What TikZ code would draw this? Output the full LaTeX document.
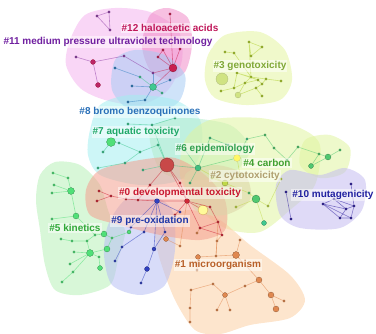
\documentclass[tikz,border=0pt]{standalone}
\usepackage{fontspec}
\setsansfont{Liberation Sans}
\usepackage{tikz}

\definecolor{col0}{HTML}{C81830}
\definecolor{col1}{HTML}{B86028}
\definecolor{col2}{HTML}{B0A070}
\definecolor{col3}{HTML}{80A838}
\definecolor{col4}{HTML}{40A030}
\definecolor{col5}{HTML}{30A838}
\definecolor{col6}{HTML}{30A050}
\definecolor{col7}{HTML}{20A868}
\definecolor{col8}{HTML}{2A70B8}
\definecolor{col9}{HTML}{2038A8}
\definecolor{col10}{HTML}{2020A0}
\definecolor{col11}{HTML}{7020A0}
\definecolor{col12}{HTML}{C0185A}

\definecolor{nod0}{HTML}{D02838}
\definecolor{nod1}{HTML}{E08850}
\definecolor{nod2}{HTML}{C0D848}
\definecolor{nod3}{HTML}{B0D030}
\definecolor{nod4}{HTML}{50C870}
\definecolor{nod5}{HTML}{50E078}
\definecolor{nod6}{HTML}{40C080}
\definecolor{nod7}{HTML}{40C890}
\definecolor{nod8}{HTML}{3080C0}
\definecolor{nod9}{HTML}{3040C0}
\definecolor{nod10}{HTML}{3020A0}
\definecolor{nod11}{HTML}{9040A8}
\definecolor{nod12}{HTML}{C82050}
\definecolor{hubc}{HTML}{C84848}

\definecolor{area0}{HTML}{F4A090}
\definecolor{area1}{HTML}{FCD0A4}
\definecolor{area2}{HTML}{DCD4A8}
\definecolor{area3}{HTML}{E4F4A0}
\definecolor{area4}{HTML}{E0F4A0}
\definecolor{area5}{HTML}{B8F0B8}
\definecolor{area6}{HTML}{B4ECCC}
\definecolor{area7}{HTML}{A4EEF0}
\definecolor{area8}{HTML}{A8CCF4}
\definecolor{area9}{HTML}{B8C0F4}
\definecolor{area10}{HTML}{C4BCF0}
\definecolor{area11}{HTML}{F4B4EE}
\definecolor{area12}{HTML}{F08CC8}

\tikzset{
  blob/.style={fill=#1, fill opacity=0.55, draw=none},
  dot/.style={circle, inner sep=0pt, minimum size=2.6pt, fill=#1, draw=black!45!#1, line width=0.2pt},
  bigdot/.style={dot=#1, minimum size=6pt},
  link/.style={draw=#1, line width=0.6pt, opacity=0.55},
  lbl/.style={text=#1, font=\sffamily\bfseries\fontsize{10}{12}\selectfont,
    fill=white, fill opacity=0.5, text opacity=1, inner sep=1pt}
}

\begin{document}
\begin{tikzpicture}[x=1pt,y=-1pt]
\useasboundingbox (0,0) rectangle (376,334);

%cluster areas
\fill[blob=area11] plot[smooth cycle] coordinates {(70,40) (85,15) (115,8) (150,12) (178,30) (182,60) (168,90) (140,105) (105,100) (80,88) (66,65)};
\fill[blob=area12] plot[smooth cycle] coordinates {(150,15) (168,8) (188,18) (192,45) (185,72) (168,80) (150,70) (142,45)};
\fill[blob=area8] plot[smooth cycle] coordinates {(115,60) (135,50) (165,55) (185,75) (180,100) (160,112) (130,110) (112,90)};
\fill[blob=area7] plot[smooth cycle] coordinates {(90,130) (100,105) (130,95) (175,100) (200,120) (200,155) (180,180) (140,185) (100,175) (88,155)};
\fill[blob=area3] plot[smooth cycle] coordinates {(208,55) (225,35) (260,32) (285,50) (292,80) (280,100) (245,105) (215,98) (205,80)};
\fill[blob=area6] plot[smooth cycle] coordinates {(150,130) (180,118) (230,125) (250,150) (230,175) (190,180) (160,170)};
\fill[blob=area4] plot[smooth cycle] coordinates {(185,140) (210,120) (260,118) (300,128) (320,145) (315,185) (290,210) (260,232) (225,228) (195,205) (180,175)};
\fill[blob=area4] plot[smooth cycle] coordinates {(305,140) (330,135) (350,148) (345,172) (320,178) (300,165)};
\fill[blob=area10] plot[smooth cycle] coordinates {(276,185) (290,170) (320,175) (345,168) (365,180) (362,210) (340,228) (300,228) (280,215)};
\fill[blob=area5] plot[smooth cycle] coordinates {(40,175) (55,162) (80,165) (100,185) (110,215) (125,230) (118,260) (110,285) (80,295) (55,290) (45,265) (40,230) (36,200)};
\fill[blob=area1] plot[smooth cycle] coordinates {(160,220) (190,210) (220,220) (250,245) (290,275) (305,300) (290,318) (250,325) (220,334) (195,330) (175,300) (160,260) (155,235)};
\fill[blob=area9] plot[smooth cycle] coordinates {(108,225) (125,200) (150,195) (172,210) (175,250) (165,285) (140,295) (112,285) (104,255)};
\fill[blob=area0] plot[smooth cycle] coordinates {(86,190) (100,170) (140,160) (175,158) (205,175) (225,200) (225,230) (200,240) (160,235) (120,225) (90,215)};
\fill[blob=area2] plot[smooth cycle] coordinates {(185,175) (215,165) (245,175) (250,200) (225,215) (195,210)};

%cluster 11
\node[dot=nod11] (k11a) at (97,16) {};
\node[dot=nod11] (k11b) at (109,12) {};
\node[dot=nod11] (k11c) at (110,30) {};
\node[dot=nod11] (k11d) at (76,57) {};
\node[bigdot=nod11!60!red, minimum size=5pt] (k11e) at (93,62) {};
\node[bigdot=nod11!60!red, minimum size=5pt] (k11f) at (98,85) {};
\node[dot=nod11] (k11g) at (124,56) {};
\node[dot=nod11] (k11h) at (153,73) {};

%cluster 12
\node[dot=nod12] (k12a) at (170,14) {};
\node[dot=nod12] (k12b) at (163,50) {};
\node[dot=nod12] (k12c) at (180,49) {};
\node[dot=nod12] (k12d) at (158,57) {};
\node[bigdot=nod12, minimum size=8pt] (k12e) at (173,68) {};

%cluster 8
\node[dot=nod7] (k8a) at (140,77) {};
\node[bigdot=nod7, minimum size=7pt] (k8b) at (153,87) {};
\node[dot=nod7] (k8c) at (162,93) {};
\node[dot=nod8] (k8d) at (115,68) {};
\node[dot=nod8] (k8e) at (132,86) {};
\node[dot=nod8] (k8f) at (145,100) {};
\node[dot=nod8] (k8g) at (170,80) {};
\node[dot=nod8] (k8h) at (128,102) {};

%cluster 7
\node[bigdot=nod5, minimum size=9pt] (k7a) at (111,142) {};
\node[dot=nod7] (k7b) at (119,143) {};
\node[dot=nod7] (k7c) at (103,152) {};
\node[dot=nod7] (k7d) at (128,124) {};
\node[dot=nod7] (k7e) at (140,152) {};
\node[dot=nod7] (k7f) at (152,125) {};
\node[dot=nod7] (k7g) at (125,163) {};
\node[dot=nod7] (k7h) at (158,145) {};
\node[dot=nod7] (k7i) at (98,168) {};
\node[dot=nod7] (k7j) at (175,118) {};
\node[dot=nod7] (k7k) at (143,170) {};

%center
\node[bigdot=hubc, minimum size=14pt] (hub) at (167,165) {};

%cluster 6
\node[bigdot=nod6, minimum size=6pt] (k6a) at (198,168) {};
\node[dot=nod6] (k6b) at (185,150) {};
\node[dot=nod6] (k6c) at (210,138) {};
\node[dot=nod6] (k6d) at (228,145) {};
\node[dot=nod6] (k6e) at (190,183) {};

%cluster 4
\node[dot=nod7] (k4a) at (247,139) {};
\node[dot=nod4] (k4b) at (265,135) {};
\node[dot=nod4] (k4c) at (274,148) {};
\node[bigdot=yellow!60, minimum size=7pt] (k4d) at (237,158) {};
\node[bigdot=nod4, minimum size=6pt] (k4e) at (328,157) {};
\node[dot=nod4] (k4f) at (319,154) {};
\node[bigdot=nod4, minimum size=5pt] (k4g) at (311,166) {};
\node[dot=nod4] (k4h) at (340,150) {};
\node[dot=nod4] (k4i) at (298,147) {};
\node[dot=nod4] (k4j) at (287,160) {};

%cluster 2
\node[bigdot=nod2, minimum size=6pt] (k2a) at (225,183) {};
\node[dot=nod4] (k2b) at (249,193) {};
\node[bigdot=nod4, minimum size=8pt] (k2c) at (256,199) {};
\node[bigdot=nod7, minimum size=5pt] (k2d) at (264,223) {};
\node[dot=nod2] (k2e) at (268,206) {};
\node[dot=nod2] (k2f) at (281,179) {};
\node[dot=nod2] (k2g) at (240,175) {};
\node[dot=nod2] (k2h) at (236,207) {};
\node[dot=nod2] (k2i) at (212,178) {};

%cluster 0
\node[dot=nod0] (k0a) at (99,191) {};
\node[dot=nod0] (k0b) at (97,201) {};
\node[dot=nod0] (k0c) at (111,196) {};
\node[dot=nod0] (k0d) at (126,199) {};
\node[dot=nod0] (k0e) at (138,200) {};
\node[bigdot=nod9, minimum size=5pt] (k0f) at (157,201) {};
\node[bigdot=nod0, minimum size=5pt] (k0g) at (187,201) {};
\node[bigdot=yellow!40, minimum size=10pt, draw=brown] (k0h) at (203,210) {};
\node[dot=nod0] (k0i) at (210,207) {};
\node[dot=nod0] (k0j) at (180,183) {};
\node[dot=nod0] (k0k) at (200,228) {};
\node[dot=nod0] (k0l) at (218,222) {};
\node[dot=nod0] (k0m) at (222,235) {};
\node[dot=nod0] (k0n) at (175,215) {};
\node[dot=nod0] (k0o) at (150,185) {};

%cluster 9
\node[dot=nod9] (k9a) at (180,212) {};
\node[dot=nod9] (k9b) at (131,227) {};
\node[bigdot=nod5, minimum size=4pt] (k9c) at (129,232) {};
\node[dot=nod9] (k9d) at (144,232) {};
\node[dot=nod9] (k9e) at (122,247) {};
\node[bigdot=nod9, minimum size=4pt] (k9f) at (154,249) {};
\node[dot=nod9] (k9g) at (115,261) {};
\node[bigdot=nod9, minimum size=5pt] (k9h) at (147,269) {};
\node[dot=nod9] (k9i) at (141,283) {};
\node[dot=nod9] (k9j) at (165,232) {};

%cluster 5
\node[dot=nod5] (k5a) at (53,173) {};
\node[dot=nod5] (k5b) at (68,178) {};
\node[dot=nod5] (k5c) at (54,185) {};
\node[bigdot=nod5, minimum size=7pt] (k5d) at (71,191) {};
\node[dot=nod5] (k5e) at (52,193) {};
\node[bigdot=nod5, minimum size=6pt] (k5f) at (76,216) {};
\node[dot=nod5] (k5g) at (52,219) {};
\node[dot=nod5] (k5h) at (95,235) {};
\node[bigdot=nod5, minimum size=6pt] (k5i) at (104,234) {};
\node[dot=nod5] (k5j) at (61,239) {};
\node[dot=nod5] (k5k) at (72,241) {};
\node[dot=nod5] (k5l) at (87,241) {};
\node[dot=nod5] (k5m) at (112,238) {};
\node[bigdot=nod5, minimum size=6pt] (k5n) at (107,249) {};
\node[bigdot=nod5, minimum size=7pt] (k5o) at (90,253) {};
\node[dot=nod5] (k5p) at (74,252) {};
\node[dot=nod5] (k5q) at (99,257) {};
\node[dot=nod5] (k5r) at (70,264) {};
\node[bigdot=nod5, minimum size=5pt] (k5s) at (100,268) {};
\node[dot=nod5] (k5t) at (73,272) {};
\node[dot=nod5] (k5u) at (62,282) {};

%cluster 10
\node[dot=nod10] (k10a) at (286,192) {};
\node[dot=nod10] (k10b) at (291,219) {};
\node[dot=nod10] (k10c) at (351,184) {};
\node[dot=nod10] (k10d) at (323,204) {};
\node[dot=nod10] (k10e) at (340,218) {};
\node[dot=nod10] (k10f) at (351,218) {};
\node[dot=nod10] (k10g) at (354,206) {};
\node[dot=nod10] (k10h) at (346,209) {};
\node[dot=nod10] (k10i) at (334,199) {};

%cluster 3
\node[bigdot=nod3!60, minimum size=12pt] (k3a) at (222,79) {};
\node[dot=nod3] (k3b) at (249,42) {};
\node[dot=nod3] (k3c) at (262,47) {};
\node[dot=nod3] (k3d) at (225,52) {};
\node[dot=nod3] (k3e) at (234,53) {};
\node[dot=nod3] (k3f) at (251,56) {};
\node[dot=nod3] (k3g) at (237,73) {};
\node[dot=nod3] (k3h) at (251,77) {};
\node[dot=nod3] (k3i) at (258,80) {};
\node[dot=nod3] (k3j) at (266,79) {};
\node[dot=nod3] (k3k) at (262,84) {};
\node[dot=nod3] (k3l) at (281,81) {};
\node[dot=nod3] (k3m) at (221,91) {};
\node[bigdot=nod3!60, minimum size=6pt] (k3n) at (238,95) {};
\node[dot=nod3] (k3o) at (262,96) {};
\node[dot=nod3] (k3p) at (256,88) {};
\node[dot=nod3] (k3q) at (234,88) {};
\node[dot=nod3] (k3r) at (245,83) {};

%cluster 1
\node[bigdot=nod1, minimum size=5pt] (k1a) at (166,239) {};
\node[dot=nod1] (k1b) at (180,246) {};
\node[dot=nod1] (k1c) at (197,233) {};
\node[dot=nod1] (k1d) at (217,241) {};
\node[bigdot=nod1, minimum size=7pt] (k1e) at (236,255) {};
\node[dot=nod1] (k1f) at (216,256) {};
\node[bigdot=nod1, minimum size=5pt] (k1g) at (198,257) {};
\node[dot=nod1] (k1h) at (191,290) {};
\node[bigdot=nod1, minimum size=5pt] (k1i) at (225,295) {};
\node[dot=nod1] (k1j) at (245,286) {};
\node[bigdot=nod1, minimum size=6pt] (k1k) at (259,280) {};
\node[bigdot=nod1, minimum size=6pt] (k1l) at (271,295) {};
\node[dot=nod1] (k1m) at (284,301) {};
\node[bigdot=nod1, minimum size=6pt] (k1n) at (276,309) {};
\node[dot=nod1] (k1o) at (217,310) {};
\node[dot=nod1] (k1p) at (230,310) {};
\node[dot=nod1] (k1q) at (213,284) {};
\node[dot=nod1] (k1r) at (190,322) {};
\node[dot=nod1] (k1s) at (190,308) {};
\node[dot=nod1] (k1t) at (197,270) {};
\node[dot=nod1] (k1u) at (240,240) {};

%links
\draw[link=nod11] (k11a) -- (k11b) -- (k11c) -- (k11a);
\draw[link=nod11] (k11d) -- (k11e) -- (k11f);
\draw[link=nod11] (k11e) -- (k11g) -- (k11h);
\draw[link=nod12] (k12a) -- (k12e);
\draw[link=nod12] (k12b) -- (k12e);
\draw[link=nod12] (k12c) -- (k12e);
\draw[link=nod12] (k12d) -- (k12e);
\draw[link=nod12] (k12b) -- (k12d);
\draw[link=nod12] (k11h) -- (k12e);
\draw[link=nod7] (k8b) -- (k8a);
\draw[link=nod7] (k8b) -- (k8c);
\draw[link=nod8] (k8b) -- (k8f);
\draw[link=nod8] (k8b) -- (k8g);
\draw[link=nod8] (k8b) -- (k8e);
\draw[link=nod8] (k8a) -- (k8d);
\draw[link=nod8] (k8h) -- (k8f);
\draw[link=nod8] (k11h) -- (k8b);
\draw[link=nod12] (k12e) -- (k8b);
\draw[link=nod7] (k7a) -- (k7b) -- (k7e) -- (k7h) -- (hub);
\draw[link=nod7] (k7a) -- (k7c);
\draw[link=nod7] (k7f) -- (hub);
\draw[link=nod7] (k7j) -- (k7f) -- (k7d);
\draw[link=nod7] (k7g) -- (k7e);
\draw[link=nod7] (k7i) -- (k7g);
\draw[link=nod7] (k7k) -- (hub);
\draw[link=nod6] (hub) -- (k6a) -- (k6b);
\draw[link=nod6] (k6a) -- (k6c) -- (k6d);
\draw[link=nod6] (k6a) -- (k6e);
\draw[link=nod4] (k4a) -- (k4b) -- (k4c);
\draw[link=nod4] (k4a) -- (k4d) -- (k6a);
\draw[link=nod4] (k4e) -- (k4f) -- (k4g) -- (k4e) -- (k4h);
\draw[link=nod4] (k4i) -- (k4f);
\draw[link=nod4] (k4c) -- (k4j) -- (k4i);
\draw[link=nod2] (k2a) -- (k2b) -- (k2c) -- (k2e) -- (k2f);
\draw[link=nod2] (k2c) -- (k2d);
\draw[link=nod2] (k2a) -- (k2g) -- (k4d);
\draw[link=nod2] (k2h) -- (k2c);
\draw[link=nod2] (k2i) -- (k2a) -- (k6a);
\draw[link=nod0] (k0a) -- (k0c) -- (k0b);
\draw[link=nod0] (k0c) -- (k0d) -- (k0e) -- (k0f) -- (k0g) -- (k0i) -- (k0l);
\draw[link=nod0] (k0g) -- (hub);
\draw[link=nod0] (k0g) -- (k0k) -- (k0l) -- (k0m) -- (k0k);
\draw[link=nod0] (k0g) -- (k0j) -- (hub);
\draw[link=nod0] (k0e) -- (k0o) -- (hub);
\draw[link=nod0] (k0n) -- (k0g) -- (k0h);
\draw[link=nod9] (k0f) -- (k9b) -- (k9c);
\draw[link=nod9] (k0f) -- (k9d) -- (k9e) -- (k9g);
\draw[link=nod9] (k0f) -- (k9f) -- (k9h) -- (k9i);
\draw[link=nod9] (k0f) -- (k9a);
\draw[link=nod9] (k0f) -- (k9j) -- (k9f);
\draw[link=nod5] (k5a) -- (k5b) -- (k5d);
\draw[link=nod5] (k5c) -- (k5d);
\draw[link=nod5] (k5e) -- (k5d) -- (k5f) -- (k5g);
\draw[link=nod5] (k5f) -- (k5h) -- (k5i) -- (k5m) -- (k9c);
\draw[link=nod5] (k5j) -- (k5k) -- (k5l) -- (k5h);
\draw[link=nod5] (k5l) -- (k5o) -- (k5p);
\draw[link=nod5] (k5o) -- (k5q) -- (k5s);
\draw[link=nod5] (k5o) -- (k5n) -- (k5m);
\draw[link=nod5] (k5r) -- (k5o);
\draw[link=nod5] (k5u) -- (k5t) -- (k5o);
\draw[link=nod10] (k10a) -- (k10b);
\draw[link=nod10] (k10d) -- (k10e) -- (k10f) -- (k10g) -- (k10h) -- (k10e);
\draw[link=nod10] (k10d) -- (k10f);
\draw[link=nod10] (k10d) -- (k10h);
\draw[link=nod10] (k10d) -- (k10i) -- (k10g) -- (k10c);
\draw[link=nod10] (k10i) -- (k10h);
\draw[link=nod3] (k3b) -- (k3c) -- (k3f) -- (k3b) -- (k3h);
\draw[link=nod3] (k3g) -- (k3h) -- (k3i) -- (k3g);
\draw[link=nod3] (k3h) -- (k3j) -- (k3k) -- (k3i);
\draw[link=nod3] (k3r) -- (k3i);
\draw[link=nod3] (k3r) -- (k3h);
\draw[link=nod3] (k3p) -- (k3k);
\draw[link=nod3] (k3p) -- (k3o);
\draw[link=nod3] (k3q) -- (k3r);
\draw[link=nod3] (k3q) -- (k3g);
\draw[link=nod3] (k3n) -- (k3r);
\draw[link=nod3] (k3n) -- (k3p);
\draw[link=nod3] (k3j) -- (k3l);
\draw[link=nod3] (k3m) -- (k3q);
\draw[link=nod3] (k3d) -- (k3e) -- (k3h);
\draw[link=nod1] (k1e) -- (k1f) -- (k1g);
\draw[link=nod1] (k1e) -- (k1k) -- (k1l) -- (k1m);
\draw[link=nod1] (k1l) -- (k1n);
\draw[link=nod1] (k1k) -- (k1j) -- (k1i) -- (k1o);
\draw[link=nod1] (k1i) -- (k1p);
\draw[link=nod1] (k1i) -- (k1q) -- (k1h) -- (k1s) -- (k1r);
\draw[link=nod1] (k1f) -- (k0l);
\draw[link=nod1] (k1c) -- (k0k);
\draw[link=nod1] (k1d) -- (k0m);
\draw[link=nod1] (k1g) -- (k1t);
\draw[link=nod1] (k1a) -- (k1b) -- (k0g);
\draw[link=nod1] (k1u) -- (k1e);
\draw[link=nod1] (k1d) -- (k1f);

%cluster labels
\node[lbl=col12] (t12) at (170,28) {\#12 haloacetic acids};
\node[lbl=col11] (t11) at (108,42) {\#11 medium pressure ultraviolet technology};
\node[lbl=col3] (t3) at (250,66) {\#3 genotoxicity};
\node[lbl=col8] (t8) at (140,112) {\#8 bromo benzoquinones};
\node[lbl=col7] (t7) at (136,132) {\#7 aquatic toxicity};
\node[lbl=col6] (t6) at (215,149) {\#6 epidemiology};
\node[lbl=col4] (t4) at (267,163) {\#4 carbon};
\node[lbl=col2] (t2) at (245,176) {\#2 cytotoxicity};
\node[lbl=col0] (t0) at (180,193) {\#0 developmental toxicity};
\node[lbl=col10] (t10) at (333,195) {\#10 mutagenicity};
\node[lbl=col9] (t9) at (150,221) {\#9 pre-oxidation};
\node[lbl=col5] (t5) at (75,228) {\#5 kinetics};
\node[lbl=col1] (t1) at (218,265) {\#1 microorganism};

\end{tikzpicture}
\end{document}
